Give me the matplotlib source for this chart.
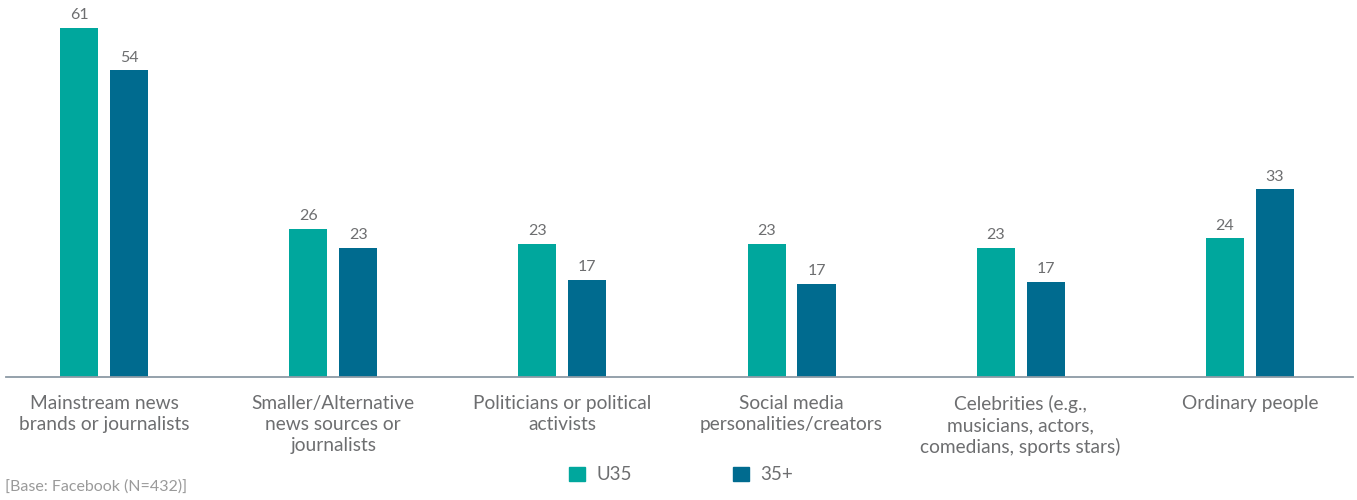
import numpy as np
import matplotlib.pyplot as plt

plt.rcParams['font.family'] = ['Lato', 'DejaVu Sans']

# data (%)
categories = ['Mainstream news\nbrands or journalists',
              'Smaller/Alternative\nnews sources or\njournalists',
              'Politicians or political\nactivists',
              'Social media\npersonalities/creators',
              'Celebrities (e.g.,\nmusicians, actors,\ncomedians, sports stars)',
              'Ordinary people']
u35 = [61.2, 26.0, 23.4, 23.4, 22.7, 24.3]
over35 = [53.8, 22.7, 17.0, 16.3, 16.7, 32.9]
u35_labels = [61, 26, 23, 23, 23, 24]
over35_labels = [54, 23, 17, 17, 17, 33]
series_names = ['U35', '35+']

c_u35 = '#00a79d'
c_35 = '#006b8f'
grey = '#6d6e70'

fig = plt.figure(figsize=(13.57, 5), dpi=100)
ax = fig.add_axes([0.0044, 0.246, 0.9926, 0.754])

x = np.arange(len(categories))
w = 0.166
off = 0.109
b1 = ax.bar(x - off, u35, w, color=c_u35)
b2 = ax.bar(x + off, over35, w, color=c_35)

for bars, labs in [(b1, u35_labels), (b2, over35_labels)]:
    for b, lab in zip(bars, labs):
        ax.annotate(str(lab), (b.get_x() + b.get_width() / 2, b.get_height()),
                    xytext=(0, 4), textcoords='offset points',
                    ha='center', va='bottom', fontsize=11.5, color=grey)

ax.set_xlim(-0.428, 5.45)
ax.set_ylim(0, 66.1)
for s in ['top', 'right', 'left']:
    ax.spines[s].set_visible(False)
ax.spines['bottom'].set_color('#8c9aa5')
ax.spines['bottom'].set_linewidth(1.3)
ax.set_yticks([])
ax.set_xticks(x)
ax.set_xticklabels(categories, fontsize=13.8, color=grey, linespacing=1.28)
ax.tick_params(axis='x', length=0, pad=13)

handles = [plt.Rectangle((0, 0), 1, 1, color=c) for c in [c_u35, c_35]]
fig.legend(handles, series_names, loc='center', bbox_to_anchor=(0.502, 0.05),
           ncol=2, frameon=False, fontsize=13.5, labelcolor=grey,
           handlelength=0.85, handleheight=0.85, columnspacing=5.4, handletextpad=0.6)

fig.text(0.004, 0.018, '[Base: Facebook (N=432)]', fontsize=11.5, color='#9a9a9a')

fig.savefig('out.png', dpi=100)
